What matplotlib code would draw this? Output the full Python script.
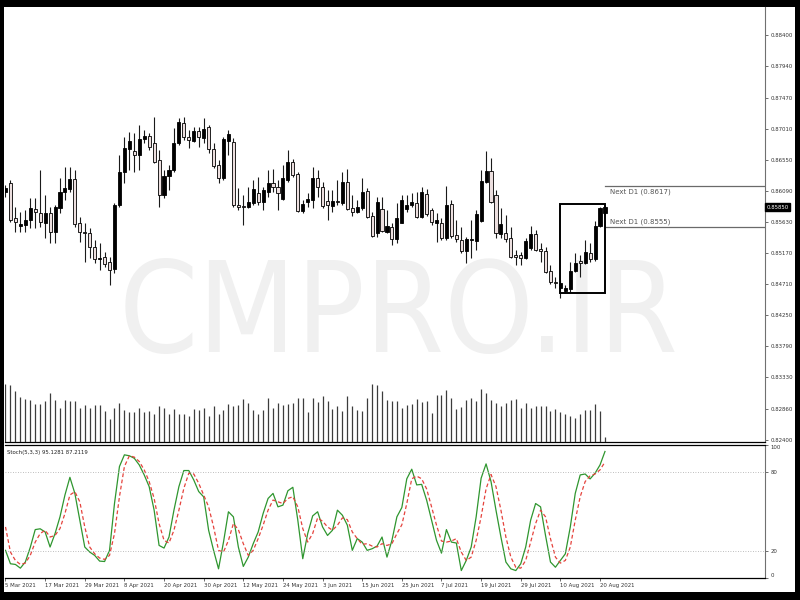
import numpy as np
import matplotlib
matplotlib.use("Agg")
import matplotlib.pyplot as plt
import matplotlib.font_manager as fm
import matplotlib.transforms as mtrans
from matplotlib.patches import Rectangle

# DATA  (daily candles 5 Mar 2021 -> 23 Aug 2021)

date_labels = ["5 Mar 2021", "17 Mar 2021", "29 Mar 2021", "8 Apr 2021",
               "20 Apr 2021", "30 Apr 2021", "12 May 2021", "24 May 2021",
               "3 Jun 2021", "15 Jun 2021", "25 Jun 2021", "7 Jul 2021",
               "19 Jul 2021", "29 Jul 2021", "10 Aug 2021", "20 Aug 2021"]

opens = [0.86074, 0.86207, 0.85689, 0.85570, 0.85585, 0.85659, 0.85822, 0.85763, 0.85615, 0.85763,
         0.85481, 0.85837, 0.86074, 0.86119, 0.86267, 0.85615, 0.85481, 0.85467, 0.85259, 0.85081,
         0.85111, 0.85037, 0.84933, 0.85881, 0.86370, 0.86711, 0.86682, 0.86622, 0.86859, 0.86904,
         0.86800, 0.86548, 0.86030, 0.86311, 0.86400, 0.86800, 0.87096, 0.86889, 0.86830, 0.86978,
         0.86874, 0.87037, 0.86711, 0.86474, 0.86281, 0.86830, 0.86815, 0.85881, 0.85867, 0.85852,
         0.85911, 0.86059, 0.85926, 0.86074, 0.86207, 0.86148, 0.85970, 0.86252, 0.86519, 0.86341,
         0.85793, 0.85926, 0.85956, 0.86281, 0.86148, 0.85941, 0.85867, 0.85941, 0.85911, 0.86222,
         0.85837, 0.85778, 0.85837, 0.86089, 0.85719, 0.85467, 0.85822, 0.85481, 0.85556, 0.85378,
         0.85615, 0.85822, 0.85881, 0.85911, 0.85704, 0.86044, 0.85807, 0.85615, 0.85615, 0.85393,
         0.85896, 0.85437, 0.85363, 0.85200, 0.85363, 0.85348, 0.85644, 0.86222, 0.86385, 0.86030,
         0.85452, 0.85467, 0.85393, 0.85141, 0.85141, 0.85096, 0.85244, 0.85452, 0.85230, 0.85200,
         0.84904, 0.84741, 0.84652, 0.84607, 0.84637, 0.84904, 0.85052, 0.85022, 0.85170, 0.85081,
         0.85570, 0.85763]

highs = [0.86178, 0.86252, 0.85852, 0.85778, 0.85807, 0.85985, 0.85985, 0.86400, 0.86030, 0.85852,
         0.85881, 0.86281, 0.86444, 0.86444, 0.86400, 0.85704, 0.85615, 0.85541, 0.85363, 0.85319,
         0.85185, 0.85111, 0.85911, 0.86622, 0.86889, 0.86963, 0.86948, 0.87067, 0.86993, 0.86948,
         0.87185, 0.86696, 0.86400, 0.86474, 0.87022, 0.87170, 0.87185, 0.86993, 0.87037, 0.87037,
         0.87170, 0.87067, 0.86800, 0.86548, 0.86889, 0.86993, 0.86874, 0.86133, 0.86030, 0.86148,
         0.86252, 0.86296, 0.86148, 0.86400, 0.86415, 0.86252, 0.86474, 0.86696, 0.86563, 0.86370,
         0.85956, 0.86059, 0.86444, 0.86400, 0.86222, 0.86104, 0.86104, 0.86252, 0.86370, 0.86415,
         0.86030, 0.85956, 0.86281, 0.86133, 0.85778, 0.86000, 0.86000, 0.85807, 0.85615, 0.85911,
         0.86030, 0.86030, 0.86059, 0.86074, 0.86148, 0.86119, 0.85837, 0.85763, 0.85689, 0.86163,
         0.85956, 0.85659, 0.85556, 0.85407, 0.85659, 0.85807, 0.86400, 0.86682, 0.86578, 0.86104,
         0.85837, 0.85733, 0.85556, 0.85215, 0.85185, 0.85393, 0.85570, 0.85511, 0.85319, 0.85259,
         0.84993, 0.84815, 0.84770, 0.84696, 0.85037, 0.85170, 0.85141, 0.85363, 0.85319, 0.85644,
         0.85852, 0.85867]

lows = [0.86000, 0.85630, 0.85481, 0.85481, 0.85481, 0.85541, 0.85541, 0.85556, 0.85393, 0.85319,
        0.85319, 0.85763, 0.85956, 0.86074, 0.85556, 0.85333, 0.85037, 0.85096, 0.85022, 0.84919,
        0.84963, 0.84696, 0.84874, 0.85852, 0.86207, 0.86400, 0.86370, 0.86400, 0.86800, 0.86696,
        0.86504, 0.85852, 0.85985, 0.86104, 0.86370, 0.86770, 0.86844, 0.86726, 0.86815, 0.86741,
        0.86800, 0.86652, 0.86430, 0.86207, 0.86252, 0.86622, 0.85852, 0.85807, 0.85585, 0.85837,
        0.85881, 0.85881, 0.85807, 0.86000, 0.86074, 0.85807, 0.85956, 0.86222, 0.86296, 0.85778,
        0.85763, 0.85852, 0.85837, 0.86000, 0.85837, 0.85659, 0.85778, 0.85881, 0.85881, 0.85807,
        0.85719, 0.85763, 0.85807, 0.85689, 0.85407, 0.85407, 0.85481, 0.85467, 0.85289, 0.85319,
        0.85615, 0.85778, 0.85852, 0.85689, 0.85689, 0.85719, 0.85585, 0.85333, 0.85363, 0.85363,
        0.85393, 0.85333, 0.85170, 0.85022, 0.85096, 0.85215, 0.85630, 0.86207, 0.85911, 0.85393,
        0.85393, 0.85333, 0.85096, 0.84993, 0.84993, 0.85081, 0.85215, 0.85200, 0.85037, 0.84874,
        0.84711, 0.84652, 0.84504, 0.84578, 0.84593, 0.84889, 0.84815, 0.85007, 0.85037, 0.85052,
        0.85556, 0.85748]

closes = [0.86133, 0.85659, 0.85630, 0.85600, 0.85659, 0.85837, 0.85778, 0.85630, 0.85763, 0.85481,
          0.85852, 0.86074, 0.86133, 0.86267, 0.85600, 0.85481, 0.85467, 0.85259, 0.85081, 0.85096,
          0.85007, 0.84919, 0.85881, 0.86370, 0.86726, 0.86830, 0.86622, 0.86859, 0.86904, 0.86741,
          0.86519, 0.86030, 0.86311, 0.86400, 0.86800, 0.87111, 0.86889, 0.86844, 0.86978, 0.86889,
          0.87007, 0.86711, 0.86459, 0.86281, 0.86859, 0.86933, 0.85881, 0.85852, 0.85852, 0.85926,
          0.86119, 0.85926, 0.86104, 0.86207, 0.86148, 0.86059, 0.86281, 0.86519, 0.86326, 0.85793,
          0.85896, 0.85970, 0.86281, 0.86148, 0.85867, 0.85881, 0.85941, 0.85926, 0.86222, 0.85822,
          0.85778, 0.85852, 0.86074, 0.85704, 0.85422, 0.85926, 0.85496, 0.85570, 0.85378, 0.85689,
          0.85956, 0.85881, 0.85926, 0.85704, 0.86074, 0.85748, 0.85630, 0.85659, 0.85393, 0.85881,
          0.85422, 0.85378, 0.85200, 0.85378, 0.85378, 0.85748, 0.86237, 0.86385, 0.85926, 0.85467,
          0.85600, 0.85378, 0.85111, 0.85111, 0.85096, 0.85348, 0.85452, 0.85215, 0.85200, 0.84889,
          0.84741, 0.84726, 0.84726, 0.84652, 0.84904, 0.85022, 0.85022, 0.85185, 0.85081, 0.85570,
          0.85837, 0.85850]

volumes = [57.7, 56.7, 51, 45, 42.7, 41.7, 38.3, 38.3, 40.7, 49.3,
           41.7, 34.3, 41.7, 40.7, 40.7, 34.3, 37.3, 34.3, 37.3, 36.7,
           31, 23.3, 34.3, 39, 31.7, 30, 30, 34.3, 30, 31,
           28.3, 35.7, 34.3, 27.7, 33.3, 28.3, 28.3, 25.7, 33.3, 31.7,
           34.3, 25.7, 36, 28.3, 32.3, 38.3, 35.7, 36.7, 42.7, 39,
           31.7, 28.3, 32.3, 43.7, 34.3, 39, 37.3, 38.3, 39.3, 44.3,
           44.3, 29.7, 44.3, 40, 45.7, 40.7, 33.3, 36, 30.7, 46,
           35.7, 32.3, 31, 44.3, 57.7, 56.7, 51, 41.7, 41, 41,
           34.3, 36.7, 37.7, 43.3, 40, 40.7, 29.3, 46.7, 46.7, 51.7,
           44.3, 33.3, 35, 41.7, 44.3, 40.7, 52.7, 49.3, 41.7, 39.3,
           36, 39.3, 42.3, 43.3, 34.3, 39, 34.3, 35.7, 36, 35.7,
           30.7, 33.3, 30, 28.3, 25.7, 24.3, 27.7, 32.3, 32.3, 37.7,
           31, 5]

stoch_k = [20.8, 10.7, 10.2, 7.4, 12, 23, 36.4, 37, 34.6, 23.3,
           33.4, 46, 62.4, 75.7, 63.6, 43.5, 23.3, 19.5, 17, 12.7,
           12.4, 20.8, 56, 83.8, 92.6, 91.9, 90, 85, 77.5, 68.7,
           51, 24.5, 22.5, 30.8, 51, 68.7, 80.8, 80.8, 73.7, 65,
           61, 35.9, 20.8, 6.9, 27, 49.8, 46, 23.3, 8.7, 15.7,
           25.8, 34.6, 48.5, 59.8, 63.6, 53.5, 54.8, 65.6, 68.2, 43.5,
           14.5, 33.4, 46.7, 49.8, 38.4, 32, 35.9, 51, 47.2, 39.7,
           20.8, 29.6, 27, 20.8, 22, 24, 30.8, 15.7, 28.3, 46,
           53, 74.6, 81.8, 70, 70.4, 58.6, 43.5, 28.3, 18.7, 36.4,
           27, 26.3, 5.6, 13.2, 23.3, 46, 75, 85.8, 72.5, 51,
           30.8, 12, 6.9, 5.6, 10.7, 23.3, 43.5, 56, 53.5, 32,
           12, 8.1, 13.2, 18.2, 38.4, 63.6, 77.5, 78.2, 74.5, 78.8,
           85, 95.1281]

stoch_d = [38.4, 19.5, 13.2, 10.2, 11.2, 17, 27, 33.4, 35.9, 30.8,
           32, 37.2, 48.5, 62.4, 64.9, 57.3, 38.4, 23.3, 18.2, 15,
           14, 17, 33.4, 61.1, 83.8, 91.9, 90.9, 87.6, 81.3, 72.5,
           59.8, 40.9, 28.3, 26.3, 35.9, 51, 67.4, 78.8, 78.2, 71.2,
           62.4, 53.5, 38.4, 20.8, 19.5, 28.3, 40.9, 36.4, 25.8, 17,
           20.8, 29.6, 39.7, 51, 58.6, 57.3, 56, 59.8, 61.1, 53.5,
           37.2, 27, 33.4, 45.2, 42.7, 38.4, 35.9, 39.7, 45.2, 43.9,
           34.6, 29.6, 25.3, 25.8, 24, 23.3, 25.8, 24.5, 25.8, 33.4,
           40, 56, 74.6, 76.6, 74.6, 67, 53.5, 39.7, 27.8, 27,
           27.8, 29.6, 19.5, 13.2, 15.7, 28.3, 46, 67, 77.8, 68.7,
           51, 30.8, 15.7, 8.1, 7.4, 13.2, 27, 40.9, 51, 46,
           29.6, 15.7, 11.2, 13.2, 23.3, 43.5, 61.1, 72.5, 76.8, 78.2,
           81.3, 87.2119]

price_ticks = [0.88400, 0.87940, 0.87470, 0.87010, 0.86550, 0.86090, 0.85630,
               0.85170, 0.84710, 0.84250, 0.83790, 0.83330, 0.82860, 0.82400]
stoch_ticks = [0, 20, 80, 100]

next_d1_hi = 0.8617
next_d1_lo = 0.8555
last_price = 0.85850
box_first, box_last = 112, 121
box_low, box_high = 0.8458, 0.8590
watermark = "CMPRO.IR"

# FONTS

names = {f.name for f in fm.fontManager.ttflist}
if "Liberation Sans Narrow" in names:
    narrow = "Liberation Sans Narrow"
    fs_tick, fs_next = 4.8, 6.0
else:
    narrow = "DejaVu Sans"
    fs_tick, fs_next = 3.9, 5.0
fam = [narrow, "DejaVu Sans"]

# a condensed face for the big watermark, if one is installed
cond = [f for f in fm.fontManager.ttflist
        if ("Narrow" in f.name or "Condensed" in f.name
            or str(f.stretch) in ("condensed", "semi-condensed", "extra-condensed"))
        and str(f.weight) in ("400", "normal", "regular") and f.style == "normal"]
if cond:
    wm_font = fm.FontProperties(fname=cond[0].fname)
else:
    wm_font = fm.FontProperties(family="DejaVu Sans")

# FIGURE (terminal look: black frame, white chart)

W, H = 800, 600
fig = plt.figure(figsize=(8, 6), dpi=100)
fig.patch.set_facecolor("black")
fig.patches.append(Rectangle((4 / W, 8 / H), 791 / W, 585 / H,
                             transform=fig.transFigure, facecolor="white",
                             edgecolor="none", zorder=-10))

ax = fig.add_axes([5 / W, (H - 442) / H, 760 / W, 435 / H])
ax2 = fig.add_axes([5 / W, (H - 578) / H, 760 / W, 133 / H], sharex=ax)

idx = np.arange(len(opens))
o = np.array(opens)
hi = np.array(highs)
lo = np.array(lows)
c = np.array(closes)
bull = c >= o

xlo, xhi = -0.1, 153.3

# watermark, sized so it spans the same width as in the screenshot
wm = ax.text(399 / W, 1 - 352 / H, watermark, transform=fig.transFigure,
             ha="center", va="baseline", color="#f0f0f0",
             fontproperties=wm_font, fontsize=80, zorder=0)
renderer = fig.canvas.get_renderer()
wm_w = wm.get_window_extent(renderer).width
wm.set_fontsize(80 * 560 / wm_w)

# candles
ax.vlines(idx, lo, hi, color="#1a1a1a", linewidth=0.8, zorder=3)
ax.bar(idx, np.maximum(np.abs(c - o), 0.00003), bottom=np.minimum(o, c),
       width=0.62, color=np.where(bull, "black", "#ecdfdf"),
       edgecolor="black", linewidth=0.6, zorder=4)

# box round the last swing
ax.add_patch(Rectangle((box_first, box_low), box_last - box_first,
                       box_high - box_low, fill=False, edgecolor="black",
                       linewidth=1.4, zorder=5))

# next D1 levels
frac = (box_last - xlo) / (xhi - xlo)
for lvl, dy, va in [(next_d1_hi, -2, "top"), (next_d1_lo, 2, "bottom")]:
    ax.axhline(lvl, xmin=frac, xmax=1, color="#6a6a6a", linewidth=0.9, zorder=3)
    ax.annotate(f"Next D1 ({lvl:.4f})", xy=(box_last + 1, lvl),
                xytext=(0, dy), textcoords="offset points", ha="left", va=va,
                fontsize=fs_next, color="#555555", family=fam)

ax.set_xlim(xlo, xhi)
ax.set_ylim(0.82370, 0.88815)

# volume in the lower part of the price window
axv = ax.twinx()
axv.vlines(idx, 0, volumes, color="#3c3c3c", linewidth=0.9)
axv.set_ylim(0, 435)
axv.axis("off")

ax.yaxis.tick_right()
ax.set_yticks(price_ticks)
ax.set_yticklabels([f"{p:.5f}" for p in price_ticks], family=fam)
ax.tick_params(axis="y", right=True, left=False, labelright=True,
               labelleft=False, length=2.5, width=0.6, color="#555555",
               labelsize=fs_tick, labelcolor="#333333", pad=1.5)
ax.tick_params(axis="x", bottom=False, labelbottom=False)

# current price tag
ax.text(1.0015, last_price, f"{last_price:.5f}",
        transform=mtrans.blended_transform_factory(ax.transAxes, ax.transData),
        ha="left", va="center", fontsize=fs_tick, color="white", family=fam,
        bbox=dict(boxstyle="square,pad=0.25", facecolor="black",
                  edgecolor="black"), zorder=6)

# STOCHASTIC

ax2.plot(idx, stoch_k, color="#2f962f", linewidth=0.9)
ax2.plot(idx, stoch_d, color="#e5433d", linewidth=0.9, linestyle=(0, (3, 2)))
for lvl in (20, 80):
    ax2.axhline(lvl, color="#a8a8a8", linewidth=0.6, linestyle=(0, (1, 2)))
ax2.set_ylim(0, 100)
ax2.text(0.003, 0.94, f"Stoch(5,3,3) {stoch_k[-1]:.4f} {stoch_d[-1]:.4f}",
         transform=ax2.transAxes, ha="left", va="center",
         fontsize=fs_tick, color="#222222", family=fam)

ax2.yaxis.tick_right()
ax2.set_yticks(stoch_ticks)
ylabs = ax2.set_yticklabels([str(v) for v in stoch_ticks], family=fam)
ylabs[0].set_va("bottom")
ylabs[-1].set_va("top")
ax2.tick_params(axis="y", right=True, left=False, labelright=True,
                labelleft=False, length=2.5, width=0.6, color="#555555",
                labelsize=fs_tick, labelcolor="#333333", pad=1.5)

ax2.set_xticks(idx[::8])
xlabs = ax2.set_xticklabels(date_labels, family=fam)
for t in xlabs:
    t.set_ha("left")
ax2.tick_params(axis="x", length=2, width=0.6, color="#555555",
                labelsize=fs_tick, labelcolor="#333333", pad=1.5)

for a in (ax, ax2):
    a.spines["left"].set_visible(False)
    a.spines["right"].set_color("#707070")
    a.spines["right"].set_linewidth(0.8)
    a.spines["bottom"].set_color("black")
    a.spines["bottom"].set_linewidth(0.9)
ax.spines["top"].set_visible(False)
ax2.spines["top"].set_color("black")
ax2.spines["top"].set_linewidth(0.9)

fig.savefig("out.png", dpi=100, facecolor=fig.get_facecolor())
